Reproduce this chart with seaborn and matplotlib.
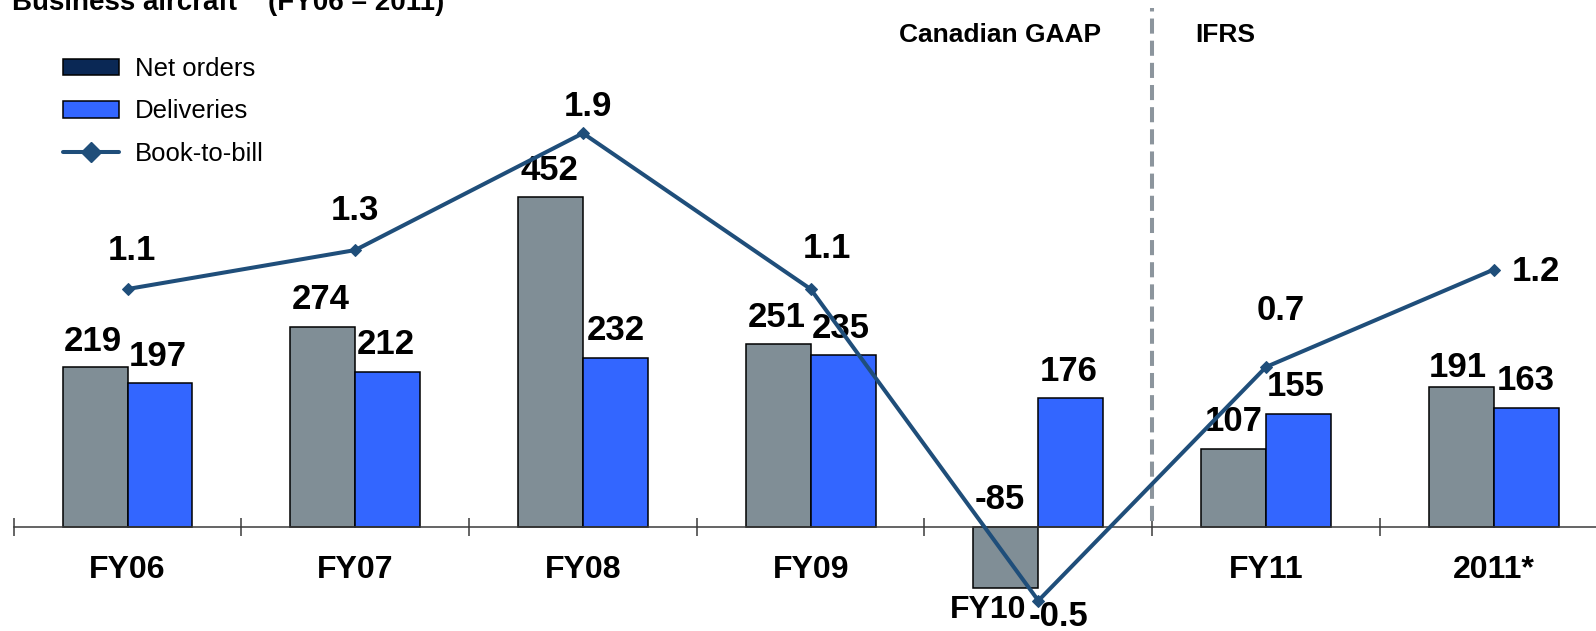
import numpy as np
import pandas as pd
import matplotlib
matplotlib.use("Agg")
import matplotlib.pyplot as plt
import seaborn as sns
from matplotlib.patches import Patch
from matplotlib.lines import Line2D

# ---- data ----
periods = ["FY06", "FY07", "FY08", "FY09", "FY10", "FY11", "2011*"]
net_orders = [219, 274, 452, 251, -85, 107, 191]
deliveries = [197, 212, 232, 235, 176, 155, 163]
book_to_bill = [1.1, 1.3, 1.9, 1.1, -0.5, 0.7, 1.2]
series_names = ["Net orders", "Deliveries", "Book-to-bill"]
title = "Business aircraft    (FY06 \u2013 2011)"
regime_labels = ["Canadian GAAP", "IFRS"]

# ---- style ----
GRAY = "#808E96"
BLUE = "#3366FF"
NAVY = "#0A2855"
LINE = "#1F4E7A"
DASH = "#8C959D"
AXIS = "#3A3A3A"

sns.set_style("white")
plt.rcParams["font.family"] = ["Liberation Sans", "DejaVu Sans"]
plt.rcParams["text.color"] = "black"

PX = 72 / 100  # points per pixel at 100 dpi

fig = plt.figure(figsize=(15.96, 6.31), dpi=100)
left = 13.65 / 1596
ax = fig.add_axes([left, 0, 1 - left, 1])

df = pd.DataFrame({
    "period": periods * 2,
    "value": net_orders + deliveries,
    "series": [series_names[0]] * len(periods) + [series_names[1]] * len(periods),
})
sns.barplot(data=df, x="period", y="value", hue="series", order=periods,
            hue_order=series_names[:2], palette=[GRAY, BLUE], width=0.57,
            saturation=1, edgecolor="black", linewidth=1.1, errorbar=None,
            legend=False, ax=ax, zorder=2)

ax.set_xlim(-0.5, 6.449)
ax.set_ylim(-143.5, 723.2)
ax.set_xlabel("")
ax.set_ylabel("")
for s in ("top", "left", "right"):
    ax.spines[s].set_visible(False)
ax.spines["bottom"].set_position(("data", 0))
ax.spines["bottom"].set_color(AXIS)
ax.spines["bottom"].set_linewidth(1.1)
ax.set_yticks([])
ax.set_xticks(range(len(periods)))
ax.set_xticklabels([""] * len(periods))
ax.set_xticks(np.arange(-0.5, len(periods) - 1, 1.0), minor=True)
ax.tick_params(axis="x", which="both", bottom=True)
ax.tick_params(axis="x", which="major", length=0)
ax.tick_params(axis="x", which="minor", direction="inout", length=13,
               width=1.1, color=AXIS)

# value labels above the bars (offsets in pixels: dx, dy to baseline)
bar_offsets = [
    [(-2, 16), (-2, 18), (-1, 17), (-1, 17), (-6, 18), (0, 18), (-3, 10)],
    [(-2, 16.6), (-2, 17.7), (0, 17.6), (-2, 17), (-2, 17), (-3, 18), (0, 17.8)],
]
for container, values, offs in zip(ax.containers, [net_orders, deliveries], bar_offsets):
    for patch, v, (dx, dy) in zip(container.patches, values, offs):
        xc = patch.get_x() + patch.get_width() / 2
        ax.annotate(f"{v}", xy=(xc, max(v, 0)), xytext=(dx * PX, dy * PX),
                    textcoords="offset points", ha="center", va="baseline",
                    fontsize=25, fontweight="bold", color="black", zorder=5)

# category labels under the axis
cat_offsets = [(0, -51.5)] * 4 + [(-50, -91.5)] + [(0, -51.5)] * 2
for i, (p, (dx, dy)) in enumerate(zip(periods, cat_offsets)):
    ax.annotate(p, xy=(i, 0), xytext=(dx * PX, dy * PX), textcoords="offset points",
                ha="center", va="baseline", fontsize=23, fontweight="bold")

# accounting regime split
split = 4.5
ax.vlines(split, 7.5, 712, colors=DASH, linewidth=2.9,
          linestyles=[(0, (3.75, 1.75))], zorder=1)
ax.annotate(regime_labels[0], xy=(split, 1 - 35 / 631),
            xycoords=("data", "axes fraction"), xytext=(-51 * PX, 0),
            textcoords="offset points", ha="right", va="center",
            fontsize=19, fontweight="bold")
ax.annotate(regime_labels[1], xy=(split, 1 - 35 / 631),
            xycoords=("data", "axes fraction"), xytext=(43 * PX, 0),
            textcoords="offset points", ha="left", va="center",
            fontsize=19, fontweight="bold")

# book-to-bill ratio on a secondary scale
ax2 = ax.twinx()
sns.lineplot(x=np.arange(len(periods)), y=book_to_bill, ax=ax2, color=LINE,
             linewidth=2.9, marker="D", markersize=6, markeredgecolor=LINE,
             sort=False, legend=False)
ax2.set_ylim(-0.6557, 2.584)
ax2.set_xlim(ax.get_xlim())
ax2.set_yticks([])
for s in ax2.spines.values():
    s.set_visible(False)

line_offsets = [(4, 28.6, "center"), (0, 30, "center"), (5, 17.6, "center"),
                (16, 31, "center"), (20, -25, "center"), (15, 47, "center"),
                (18, -11, "left")]
for i, (v, (dx, dy, ha)) in enumerate(zip(book_to_bill, line_offsets)):
    ax2.annotate(f"{v}", xy=(i, v), xytext=(dx * PX, dy * PX),
                 textcoords="offset points", ha=ha, va="baseline",
                 fontsize=25, fontweight="bold")

# legend
handles = [
    Patch(facecolor=NAVY, edgecolor="black", linewidth=1.1),
    Patch(facecolor=BLUE, edgecolor="black", linewidth=1.1),
    Line2D([], [], color=LINE, linewidth=2.9, marker="D", markersize=10),
]
ax2.legend(handles, series_names, loc="upper left",
           bbox_to_anchor=(62.7 / 1596, 1 - 57 / 631),
           bbox_transform=fig.transFigure, frameon=False, fontsize=18.5,
           handlelength=2.2, handleheight=0.6, handletextpad=0.6,
           labelspacing=0.72, borderpad=0, borderaxespad=0)

fig.text(12 / 1596, 1 - 10 / 631, title, fontsize=20, fontweight="bold",
         va="baseline", ha="left")

fig.savefig("out.png", dpi=100)
